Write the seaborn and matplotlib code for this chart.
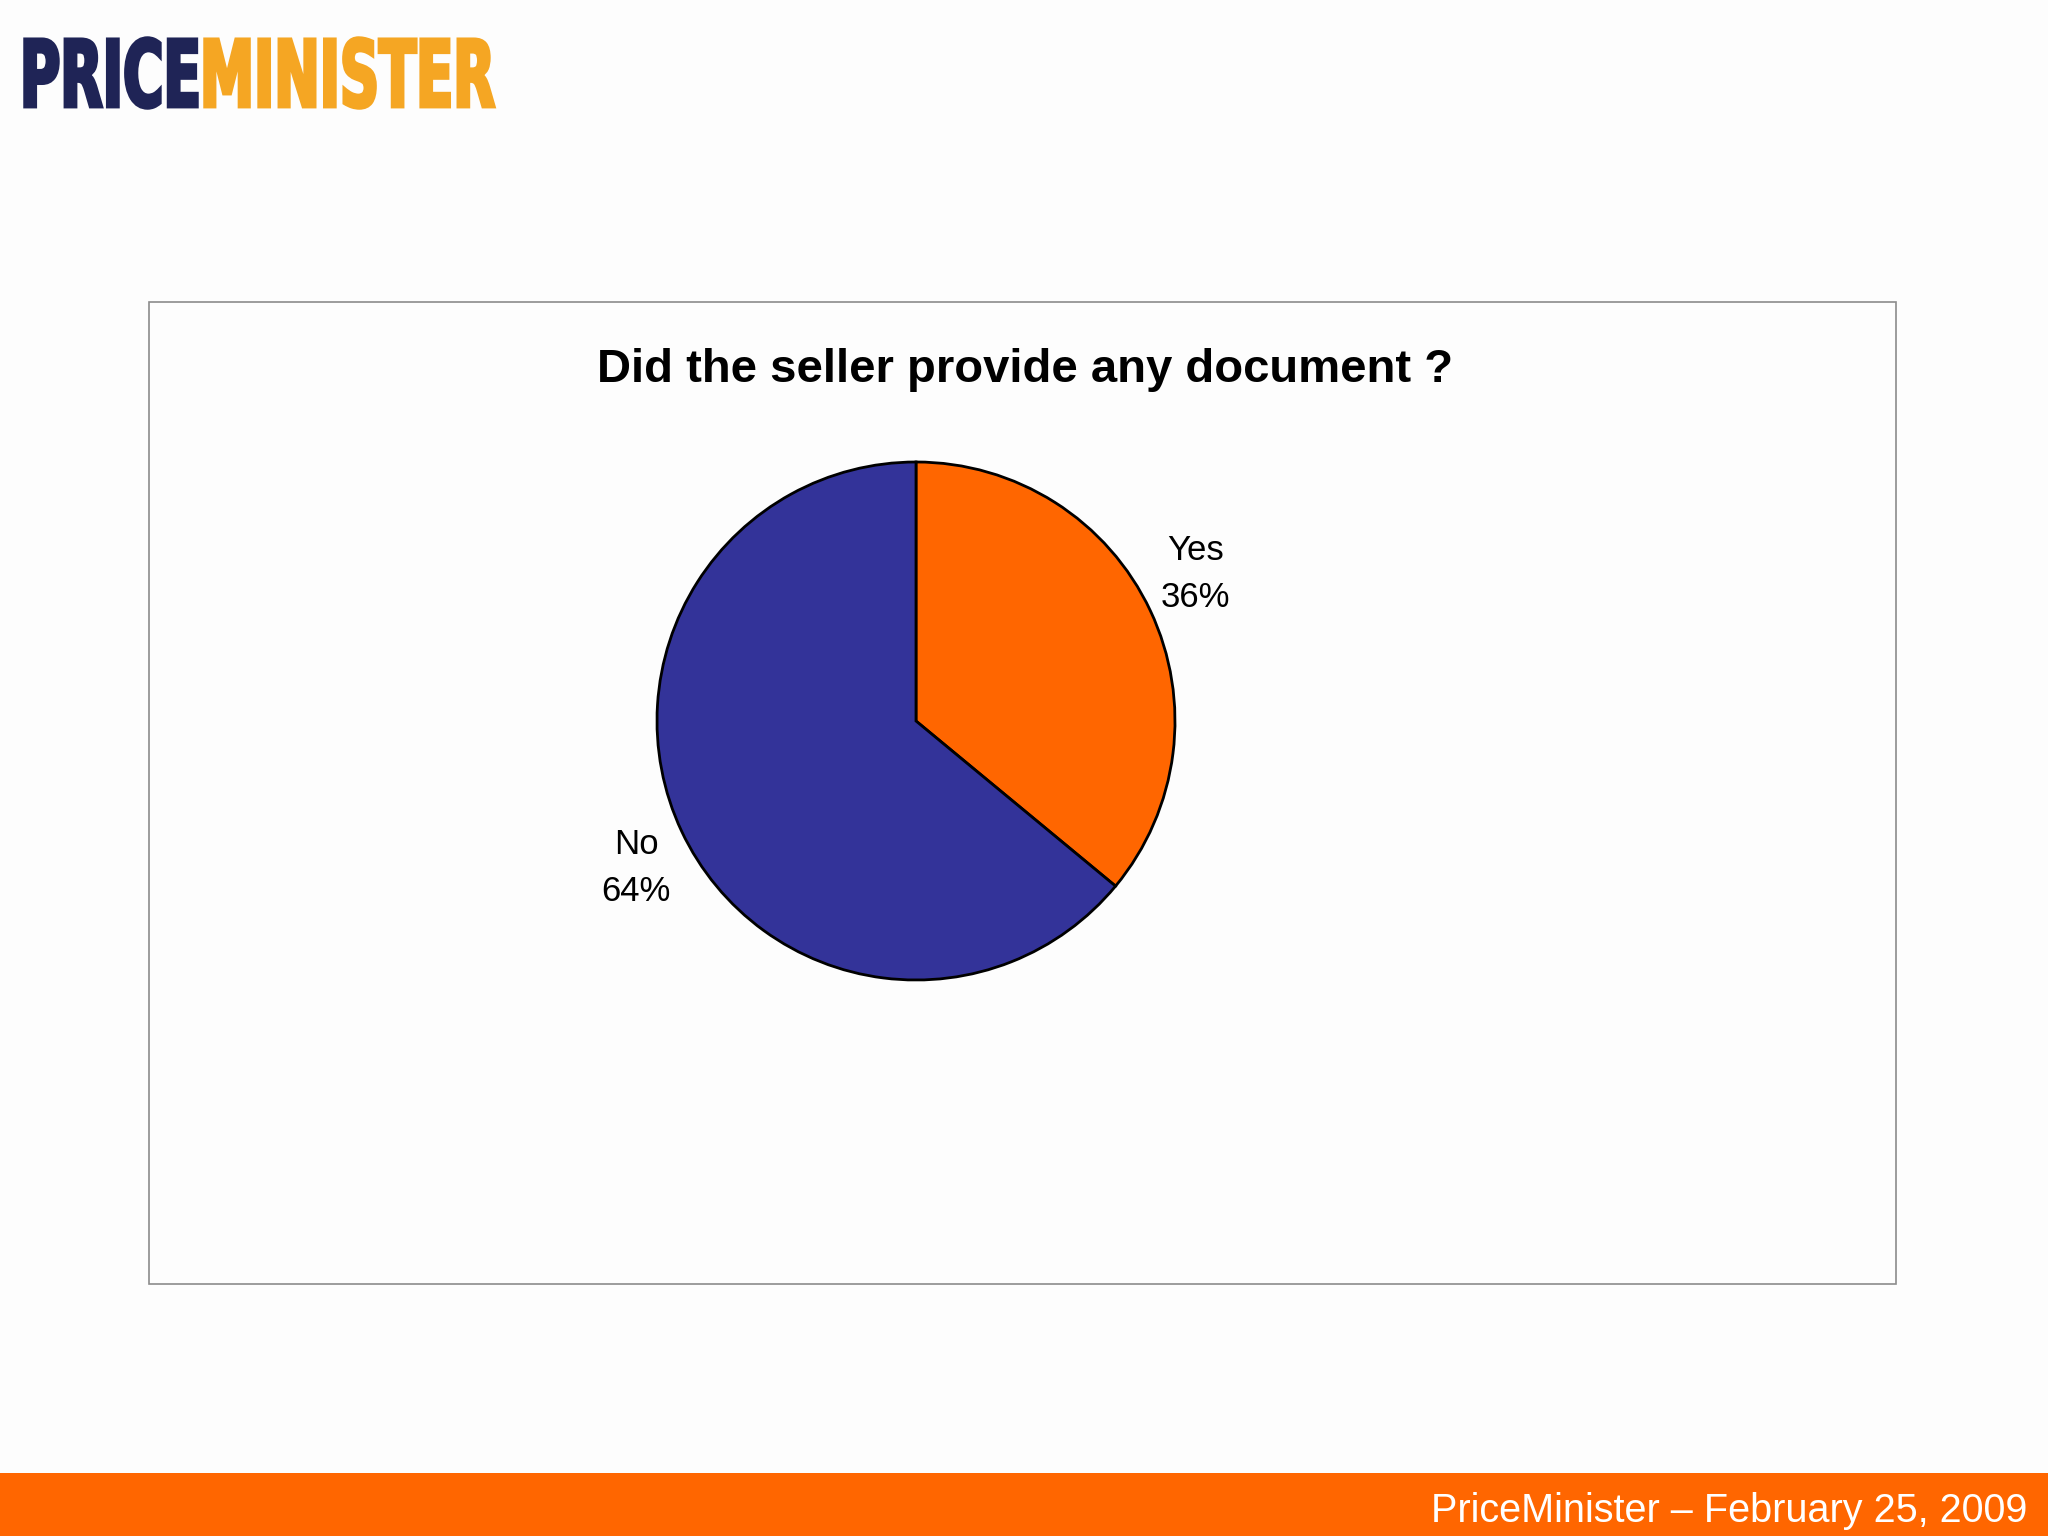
import matplotlib
matplotlib.use("Agg")
import numpy as np
import matplotlib.pyplot as plt
import seaborn as sns
from matplotlib.patches import Rectangle, PathPatch
from matplotlib.textpath import TextPath
from matplotlib.font_manager import FontProperties
from matplotlib.transforms import Affine2D

categories = ["Yes", "No"]
shares = [36, 64]
colors = ["#FF6600", "#333399"]

title = "Did the seller provide any document ?"
footer = "PriceMinister \u2013 February 25, 2009"

sns.set_theme(style="white")
plt.rcParams["font.family"] = ["Liberation Sans", "DejaVu Sans"]

W, H = 2048, 1536
fig = plt.figure(figsize=(20.48, 15.36), dpi=100, facecolor="#fdfdfd")

# background layer in pixel coords (y up)
bg = fig.add_axes([0, 0, 1, 1])
bg.set_xlim(0, W)
bg.set_ylim(0, H)
bg.axis("off")
bg.set_facecolor("none")

# chart frame
bg.add_patch(Rectangle((149, H - 1284), 1747, 982, fill=False,
                       edgecolor="#8c8c8c", lw=1.2))
# footer bar
bg.add_patch(Rectangle((0, 0), W, 63, color="#FF6600", lw=0))
bg.text(2027, H - 1511, footer, ha="right", va="center",
        color="white", fontsize=28.5)


def logo_word(word, x0, x1, y0, y1, color):
    fp = FontProperties(family="DejaVu Sans", weight="bold")
    tp = TextPath((0, 0), word, size=100, prop=fp)
    ext = tp.get_extents()
    tr = (Affine2D().translate(-ext.x0, -ext.y0)
          .scale((x1 - x0) / ext.width, (y1 - y0) / ext.height)
          .translate(x0, y0))
    bg.add_patch(PathPatch(tr.transform_path(tp), facecolor=color,
                           edgecolor=color, lw=2.5, joinstyle="miter"))


logo_word("PRICE", 25, 197, H - 108, H - 38, "#1F2456")
logo_word("MINISTER", 205, 494, H - 108, H - 38, "#F5A623")

fig.text(1025 / W, 1 - 370 / H, title, ha="center", va="center",
         fontsize=34, fontweight="bold", color="black")

# pie
cx, cy, r = 916, 721, 259
ax = fig.add_axes([(cx - r) / W, (H - cy - r) / H, 2 * r / W, 2 * r / H])
labels = [f"{c}\n{v}%" for c, v in zip(categories, shares)]
wedges, texts = ax.pie(shares, labels=labels, colors=colors, startangle=90,
                       counterclock=False, labeldistance=1.22,
                       wedgeprops=dict(edgecolor="black", linewidth=2),
                       textprops=dict(fontsize=25, color="black",
                                      linespacing=1.55))
# labels sit a little further round than the slice middle
rot = np.deg2rad(2.5)
for t in texts:
    x, y = t.get_position()
    t.set_position((x * np.cos(rot) - y * np.sin(rot),
                    x * np.sin(rot) + y * np.cos(rot)))
    t.set_ha("center")
    t.set_va("center")
ax.set_xlim(-1, 1)
ax.set_ylim(-1, 1)
ax.set_aspect("equal")

fig.savefig("out.png", dpi=100, facecolor=fig.get_facecolor())
